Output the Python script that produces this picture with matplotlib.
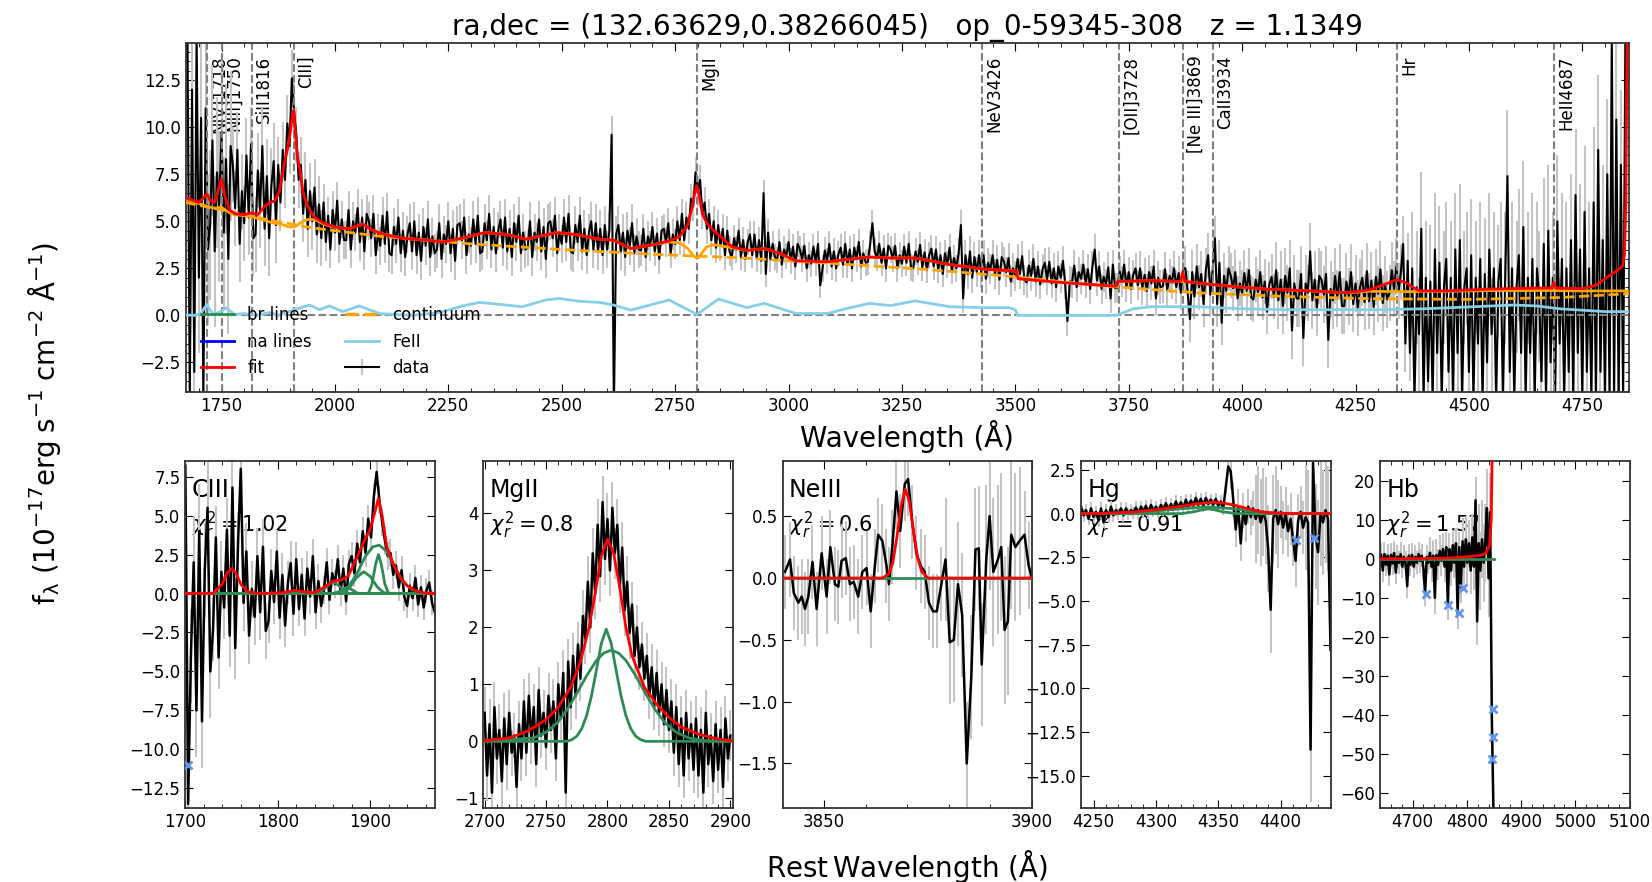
import numpy as np
import matplotlib
matplotlib.use("Agg")
import matplotlib.pyplot as plt
import matplotlib.transforms as mtransforms
from matplotlib.lines import Line2D
from matplotlib.ticker import MultipleLocator

# ============================================================
# SETUP
# ============================================================
plt.rcParams.update({
    "font.family": "DejaVu Sans",
    "font.size": 12,
    "mathtext.fontset": "dejavusans",
    "xtick.direction": "in",
    "ytick.direction": "in",
    "xtick.top": True,
    "ytick.right": True,
    "xtick.major.size": 6,
    "ytick.major.size": 6,
    "xtick.minor.size": 3,
    "ytick.minor.size": 3,
    "axes.edgecolor": "#333333",
    "axes.linewidth": 1.3,
})

RED = "red"
ORANGE = "orange"
SKY = "skyblue"
GREEN = "#2E8B57"
BLUE = "blue"
ERR_GREY = "#C4C4C4"
MASK = "cornflowerblue"

TITLE = "ra,dec = (132.63629,0.38266045)   op_0-59345-308   z = 1.1349"

# ============================================================
# DATA - full spectrum (rest frame, 5 A sampling from 1675 A)
# ============================================================
spec_wave = np.arange(1675, 4850, 5)
spec_flux = [
    14.8, -4.5, 12.0, -3.0, 14.8, 2.0, 10.5, -4.5, 11.0, 3.5,
    4.8, 9.3, 3.4, 7.6, 5.8, 9.7, 4.4, 8.3, 3.0, 9.0,
    8.0, 5.7, 8.8, 3.8, 6.6, 4.9, 8.5, 5.2, 9.1, 4.1,
    4.3, 7.7, 5.6, 9.0, 4.6, 7.4, 4.1, 6.9, 8.2, 4.8,
    8.0, 6.0, 8.8, 7.2, 10.2, 9.0, 12.6, 10.8, 9.6, 7.2,
    8.0, 5.4, 7.2, 4.6, 6.6, 5.0, 6.8, 4.3, 5.9, 4.1,
    6.0, 3.9, 5.3, 3.5, 5.6, 4.4, 6.1, 3.8, 5.1, 4.0,
    4.0, 5.6, 3.5, 5.0, 4.4, 5.7, 3.9, 5.2, 3.4, 5.4,
    5.0, 4.1, 5.4, 3.2, 4.4, 3.7, 5.3, 3.8, 5.5, 3.3,
    3.2, 4.7, 3.8, 5.2, 3.3, 4.5, 3.1, 4.3, 4.9, 3.4,
    5.0, 3.2, 4.4, 2.9, 4.7, 3.7, 5.1, 3.1, 4.2, 3.3,
    3.5, 4.9, 3.0, 4.3, 3.8, 5.0, 3.3, 4.6, 2.9, 4.8,
    4.9, 4.0, 5.2, 3.2, 4.3, 3.7, 5.1, 3.8, 5.3, 3.3,
    3.4, 4.9, 4.0, 5.4, 3.5, 4.7, 3.3, 4.5, 5.1, 3.6,
    5.2, 3.4, 4.6, 3.1, 4.9, 3.9, 5.3, 3.3, 4.4, 3.5,
    3.6, 5.0, 3.1, 4.4, 3.9, 5.1, 3.4, 4.7, 3.0, 4.9,
    5.0, 4.1, 5.3, 3.3, 4.4, 3.8, 5.2, 3.9, 5.4, 3.4,
    3.3, 4.8, 3.9, 5.3, 3.4, 4.6, 3.2, 4.4, 5.0, 3.5,
    4.9, 3.4, 4.6, 3.2, 4.8, 3.5, 4.5, 9.6, -5.0, 4.3,
    4.8, 3.4, 4.4, 3.1, 4.5, 3.7, 4.9, 3.3, 4.2, 3.5,
    3.45, 4.6, 3.1, 4.2, 3.7, 4.7, 3.4, 4.35, 3.0, 4.5,
    4.6, 3.9, 4.9, 3.3, 4.3, 3.8, 5.0, 4.0, 5.4, 4.0,
    5.2, 4.6, 6.2, 5.8, 7.6, 6.6, 7.2, 5.4, 6.0, 4.6,
    5.4, 4.0, 5.0, 3.6, 4.8, 3.7, 4.6, 3.2, 4.5, 3.4,
    3.1, 4.1, 3.5, 4.5, 3.1, 4.0, 3.0, 3.9, 4.3, 3.2,
    4.3, 3.0, 4.0, 2.9, 6.5, 2.2, 4.4, 3.0, 3.8, 3.1,
    2.95, 3.9, 2.7, 3.5, 3.15, 3.9, 2.9, 3.65, 2.6, 3.8,
    3.5, 3.0, 3.7, 2.5, 3.2, 2.75, 3.65, 2.8, 3.8, 1.6,
    2.5, 3.45, 2.9, 3.8, 2.6, 3.4, 2.5, 3.25, 3.6, 2.7,
    3.8, 2.7, 3.5, 2.5, 3.6, 3.0, 3.9, 2.6, 3.3, 2.8,
    2.85, 3.8, 4.9, 3.4, 3.05, 3.8, 2.8, 3.55, 2.5, 3.7,
    3.5, 3.0, 3.7, 2.5, 3.2, 2.75, 3.65, 2.8, 3.8, 2.55,
    2.5, 3.4, 2.85, 3.75, 2.55, 3.35, 2.4, 3.2, 3.55, 2.6,
    3.5, 2.4, 3.2, 2.2, 3.3, 2.7, 3.6, 2.35, 3.05, 2.5,
    3.3, 4.8, 0.9, 3.2, 2.2, 3.4, 2.0, 3.1, 2.3, 3.2,
    2.25, 3.2, 1.95, 2.8, 2.45, 3.2, 2.2, 2.95, 1.9, 3.1,
    2.85, 2.3, 3.05, 1.8, 2.5, 2.1, 3.0, 2.2, 3.15, 1.9,
    1.75, 2.65, 2.1, 3.0, 1.8, 2.6, 1.65, 2.45, 2.8, 1.9,
    2.85, 1.7, 2.5, 1.5, 2.6, 2.0, 2.9, 1.65, -0.3, 1.8,
    1.75, 2.65, 1.5, 2.3, 1.95, 2.7, 1.7, 2.45, 1.4, 2.6,
    3.5, 1.85, 2.6, 1.4, 2.05, 1.65, 2.55, 0.9, 2.7, 1.45,
    1.45, 2.35, 1.8, 2.7, 1.5, 2.3, 1.4, 2.15, 2.5, 1.6,
    2.5, 1.45, 2.15, 1.3, 2.3, 1.7, 2.6, 0.9, 2.0, 1.5,
    1.55, 2.45, 1.35, 2.1, 1.75, 2.5, 1.5, 2.25, 1.2, 2.5,
    2.5, 1.2, -0.2, 2.3, 1.0, 2.6, 1.5, 2.2, 0.6, 2.4,
    3.2, 1.1, 2.4, 4.1, 0.6, 2.8, -0.4, 2.1, 1.3, 2.5,
    2.1, 1.45, 2.3, 0.9, 1.7, 1.2, 2.25, 1.3, 2.4, 0.95,
    0.85, 1.9, 1.25, 2.3, 0.95, 1.8, 0.2, 1.65, 2.05, 1.0,
    2.4, 0.8, 1.9, 0.5, 2.1, 1.2, 2.5, -0.8, 1.7, 0.9,
    0.9, 2.2, -1.2, 1.7, 1.2, 3.4, 0.8, 1.9, 0.4, 2.1,
    1.9, 1.1, 2.2, -1.3, 1.4, 0.8, 2.1, 0.9, 2.3, 0.5,
    0.5, 1.8, 1.0, 2.3, 0.6, 1.7, 0.4, 1.5, 2.0, 0.7,
    2.35, 0.75, 1.85, 0.45, 2.05, 1.15, 2.45, 0.65, 1.65, 0.85,
    1.2, 2.4, 1.4, 2.6, 1.3, 2.3, 3.8, -1.5, 2.9, -2.0,
    2.5, -4.5, 1.5, -1.0, 4.6, -4.5, 2.0, -3.5, 1.8, -4.5,
    3.5, -2.0, 2.8, -4.5, 1.5, 3.0, -3.0, 2.0, -4.5, 3.5,
    -2.0, 4.0, -4.5, 1.5, 2.5, -3.0, 3.2, -4.5, 2.0, -1.5,
    3.0, -4.5, 2.2, -2.5, 3.5, -1.0, 2.5, -4.5, 1.8, 3.0,
    -4.5, 2.0, 7.4, -3.0, 2.5, -4.5, 1.5, 3.2, -2.0, 4.7,
    -4.5, 2.0, -2.0, 3.0, -4.5, 2.5, 1.0, -3.5, 3.8, -4.5,
    4.5, -2.5, 2.0, -4.5, 5.0, -1.5, 3.0, -4.5, 2.5, -3.0,
    4.0, -4.5, 6.4, -2.0, 3.5, -4.5, 5.5, -3.0, 2.5, -4.5,
    6.0, -4.5, 8.8, -3.0, 4.0, -4.5, 7.5, -4.5, 14.8, -4.5,
    10.4, -4.5, 8.0, -4.5, 15.0,
]
# one error value per 100 A block
spec_err_block = [4.0, 2.0, 1.5, 1.0, 1.0, 1.0, 1.0, 1.0, 1.0, 1.0, 0.8, 0.8,
                  0.7, 0.7, 0.7, 0.7, 0.7, 0.8, 0.8, 0.8, 0.8, 0.9, 1.2, 1.2,
                  1.5, 1.5, 1.5, 3.0, 3.0, 3.5, 3.5, 4.0]

# fit and continuum(+FeII) share nodes
model_wave = [1671, 1700, 1712, 1718, 1725, 1735, 1742, 1750, 1758, 1768, 1780, 1800,
              1816, 1830, 1845, 1858, 1868, 1878, 1888, 1896, 1902, 1906, 1909, 1912,
              1917, 1923, 1930, 1940, 1955, 1975, 2000, 2030, 2062, 2080, 2110, 2150,
              2200, 2240, 2280, 2330, 2380, 2420, 2460, 2490, 2530, 2583, 2614, 2652,
              2700, 2737, 2760, 2778, 2788, 2794, 2798, 2803, 2810, 2820, 2835, 2850,
              2875, 2908, 2947, 2980, 3016, 3086, 3124, 3178, 3225, 3279, 3356, 3433,
              3503, 3506, 3600, 3722, 3726, 3800, 3864, 3869, 3874, 3950, 4050, 4150,
              4230, 4280, 4320, 4341, 4360, 4390, 4450, 4550, 4650, 4682, 4687, 4692,
              4750, 4780, 4800, 4825, 4838, 4843, 4846, 4849]
fit_flux = [6.25, 6.00, 6.30, 6.45, 6.10, 6.00, 6.60, 7.25, 6.30, 5.60, 5.40, 5.35,
            5.45, 5.35, 5.80, 6.00, 6.10, 6.60, 8.00, 8.90, 9.80, 10.60, 10.90, 10.00,
            8.50, 7.70, 6.50, 5.80, 5.20, 4.90, 4.70, 4.60, 4.85, 4.55, 4.30, 4.10,
            4.00, 3.90, 4.10, 4.40, 4.30, 4.05, 4.25, 4.40, 4.30, 4.05, 4.00, 3.55,
            3.75, 3.95, 4.20, 4.80, 5.80, 6.60, 6.90, 6.40, 5.40, 4.90, 4.50, 4.20,
            3.65, 3.45, 3.55, 3.30, 2.90, 2.85, 2.95, 3.10, 3.05, 3.05, 2.70, 2.45,
            2.35, 1.95, 1.75, 1.55, 1.80, 1.85, 1.80, 2.30, 1.80, 1.60, 1.40, 1.30,
            1.20, 1.35, 1.70, 1.90, 1.75, 1.30, 1.30, 1.40, 1.45, 1.45, 1.75, 1.45,
            1.42, 1.60, 1.95, 2.35, 2.60, 3.20, 6.00, 16.0]
conti_flux = [6.20, 5.95, 5.85, 5.80, 5.75, 5.70, 5.72, 5.75, 5.60, 5.45, 5.35, 5.30,
              5.25, 5.15, 5.05, 4.95, 4.90, 4.85, 4.80, 4.72, 4.70, 4.70, 4.70, 4.72,
              4.80, 4.90, 5.00, 5.10, 5.10, 4.85, 4.68, 4.60, 4.85, 4.55, 4.30, 4.10,
              4.00, 3.90, 4.10, 4.40, 4.30, 4.05, 4.25, 4.40, 4.30, 4.05, 4.00, 3.55,
              3.75, 3.90, 3.85, 3.55, 3.25, 3.10, 3.05, 3.10, 3.35, 3.65, 3.75, 3.70,
              3.60, 3.45, 3.55, 3.30, 2.90, 2.85, 2.95, 3.10, 3.05, 3.05, 2.70, 2.45,
              2.35, 1.95, 1.75, 1.55, 1.80, 1.85, 1.80, 1.80, 1.80, 1.60, 1.40, 1.30,
              1.20, 1.28, 1.27, 1.26, 1.26, 1.27, 1.28, 1.32, 1.32, 1.32, 1.32, 1.32,
              1.30, 1.30, 1.30, 1.30, 1.30, 1.30, 1.30, 1.30]

pl_wave = [1671, 1750, 1850, 1950, 2100, 2300, 2500, 2700, 2900, 3100, 3300, 3500,
           3700, 3900, 4100, 4300, 4500, 4700, 4853]
pl_flux = [6.0, 5.6, 5.1, 4.65, 4.2, 3.8, 3.5, 3.25, 3.05, 2.75, 2.45, 2.05,
           1.55, 1.2, 1.0, 0.88, 0.85, 0.95, 1.15]

fe_wave = [1671, 1690, 1705, 1712, 1718, 1724, 1733, 1748, 1760, 1779, 1800, 1827,
           1856, 1878, 1910, 1944, 1966, 1988, 2017, 2054, 2098, 2171, 2230, 2281,
           2318, 2377, 2413, 2465, 2494, 2538, 2583, 2614, 2652, 2737, 2798, 2846,
           2908, 2947, 3016, 3086, 3124, 3178, 3225, 3279, 3356, 3433, 3487, 3500,
           3505, 3722, 3728, 3760, 3800, 3900, 4000, 4100, 4200, 4300, 4400, 4500,
           4600, 4650, 4700, 4800, 4853]
fe_flux = [0.02, 0.0, 0.1, 0.4, 0.55, 0.3, 0.05, 0.2, 0.4, 0.05, 0.1, 0.0,
           0.15, 0.0, 0.3, 0.55, 0.3, 0.5, 0.2, 0.5, 0.1, 0.0, 0.15, 0.5,
           0.69, 0.55, 0.46, 0.82, 0.9, 0.75, 0.69, 0.55, 0.28, 0.82, 0.05, 0.87,
           0.41, 0.64, 0.1, 0.1, 0.34, 0.64, 0.52, 0.77, 0.46, 0.41, 0.41, 0.3,
           0.0, 0.0, 0.05, 0.35, 0.46, 0.46, 0.35, 0.3, 0.3, 0.3, 0.35, 0.45,
           0.55, 0.5, 0.35, 0.2, 0.2]

line_names = ["NIV]1718", "NIII]1750", "SiII1816", "CIII]", "MgII", "NeV3426",
              "[OII]3728", "[Ne III]3869", "CaII3934", "Hr", "HeII4687"]
line_cens = [1718.5, 1750.3, 1816.4, 1908.7, 2798.7, 3426.8,
             3728.5, 3869.9, 3934.8, 4341.7, 4687.0]

# ============================================================
# DATA - line windows (continuum subtracted)
# ============================================================
# CIII window, 3 A sampling
p1_wave = np.arange(1700, 1971, 3)
p1_flux = [
    8.2, -13.5, -4.0, 2.0, -7.5, 4.0, -8.2, 1.5, 5.5, -5.0,
    -2.3, 3.6, -4.1, 1.4, -0.9, 4.1, -2.7, 6.8, -3.5, 3.2,
    8.0, -0.6, 2.7, -2.7, 0.3, -1.5, 2.4, -1.2, 3.0, -2.4,
    -1.8, 1.45, -0.55, 2.7, -1.55, 1.2, -2.05, 0.7, 1.95, -1.3,
    2.2, -1.0, 1.2, -1.6, 1.6, -0.2, 2.4, -1.2, 0.8, -0.8,
    0.2, 2.0, -0.4, 1.3, 0.6, 2.2, 0.1, 1.6, -0.5, 1.9,
    2.4, 1.3, 3.2, 2.0, 4.0, 2.6, 4.8, 3.6, 6.2, 7.8,
    6.0, 4.6, 3.4, 2.4, 2.6, 1.2, 1.8, 0.4, 1.5, -0.2,
    -0.8, 0.5, -0.3, 1.0, -0.7, 0.4, -0.9, 0.2, 0.7, -0.6,
    -1.2,
]
p1_err_block = [3.0, 2.0, 1.8, 1.4, 1.1, 0.9, 0.9, 0.9, 0.8, 0.8]
p1_fit_wave = [1700, 1730, 1740, 1745, 1750, 1755, 1760, 1768, 1780, 1805, 1818, 1830,
               1840, 1850, 1860, 1868, 1876, 1885, 1893, 1900, 1905, 1909, 1913, 1918,
               1925, 1932, 1940, 1950, 1960, 1970]
p1_fit_flux = [0.0, 0.02, 0.6, 1.3, 1.6, 1.3, 0.6, 0.1, 0.0, 0.05, 0.2, 0.1,
               0.05, 0.4, 0.8, 0.85, 1.1, 2.2, 3.3, 4.1, 5.2, 6.1, 5.0, 3.0,
               1.9, 1.1, 0.5, 0.15, 0.03, 0.0]
p1_br1_wave = [1700, 1860, 1875, 1885, 1895, 1903, 1910, 1918, 1925, 1935, 1945, 1960, 1970]
p1_br1_flux = [0.0, 0.0, 0.3, 1.2, 2.4, 3.0, 3.1, 2.7, 1.9, 0.8, 0.25, 0.0, 0.0]
p1_br2_wave = [1700, 1870, 1878, 1885, 1893, 1900, 1908, 1915, 1925, 1970]
p1_br2_flux = [0.0, 0.0, 0.4, 1.0, 1.4, 1.1, 0.4, 0.05, 0.0, 0.0]
p1_br3_wave = [1700, 1898, 1902, 1906, 1909, 1912, 1916, 1920, 1970]
p1_br3_flux = [0.0, 0.0, 0.6, 1.9, 2.5, 1.9, 0.6, 0.0, 0.0]
p1_br4_wave = [1700, 1845, 1852, 1860, 1868, 1876, 1970]
p1_br4_flux = [0.0, 0.0, 0.4, 0.8, 0.4, 0.0, 0.0]
p1_br5_wave = [1700, 1865, 1870, 1875, 1880, 1887, 1970]
p1_br5_flux = [0.0, 0.0, 0.25, 0.4, 0.25, 0.0, 0.0]
p1_mask_wave = [1703]
p1_mask_flux = [-11.0]

# MgII window, 2 A sampling
p2_wave = np.arange(2700, 2902, 2)
p2_flux = [
    0.5, -0.6, 0.3, -0.9, 0.6, -0.3, 0.2, -0.7, 0.4, -0.4, 0.5, -0.2, 0.1, -0.8, 0.3, -0.3,
    0.7, -0.2, 0.8, 0.0, 0.6, -0.4, 0.9, 0.1, 0.5, -0.1, 0.8, 0.2, 0.7, -0.3, 1.0,
    0.4, 1.2, -0.9, 1.4, 0.6, 1.5, 0.8, 1.7, 1.1, 2.2,
    1.8, 2.8, 2.0, 3.3, 2.6,
    3.8, 2.9, 4.2, 3.2, 3.9, 3.0, 4.1, 3.3,
    3.8, 2.7, 3.4, 2.3, 2.8,
    1.9, 2.4, 1.5, 2.0, 1.3, 1.7, 1.1,
    1.5, 0.8, 1.3, 0.6, 1.2, 0.5, 1.0, 0.3, 0.9, 0.2,
    0.7, -0.2, 0.6, -0.4, 0.4, -0.6, 0.5, -0.3, 0.3, -0.5,
    0.4, -0.6, 0.2, -0.9, 0.5, -0.4, 0.1, -0.7, 0.3, -0.5, 0.2, -0.8, 0.4, -0.3, 0.1,
]
p2_err_block = [0.45, 0.4, 0.4, 0.4, 0.45, 0.45, 0.4, 0.4, 0.4, 0.4, 0.45]
p2_fit_wave = [2699, 2720, 2735, 2750, 2760, 2770, 2778, 2785, 2790, 2795, 2800, 2805,
               2810, 2815, 2820, 2830, 2840, 2850, 2860, 2875, 2890, 2902]
p2_fit_flux = [0.01, 0.06, 0.18, 0.38, 0.6, 0.95, 1.4, 2.0, 2.6, 3.25, 3.55, 3.3,
               2.7, 2.0, 1.5, 0.95, 0.65, 0.42, 0.25, 0.12, 0.04, 0.01]
p2_br1_wave = [2699, 2740, 2750, 2759, 2767, 2775, 2783, 2791, 2797, 2803, 2809, 2815,
               2823, 2831, 2839, 2847, 2856, 2866, 2880, 2902]
p2_br1_flux = [0.0, 0.06, 0.16, 0.32, 0.55, 0.84, 1.15, 1.42, 1.55, 1.6, 1.55, 1.42,
               1.15, 0.84, 0.55, 0.32, 0.16, 0.06, 0.01, 0.0]
p2_br2_wave = [2699, 2767, 2771, 2775, 2779, 2783, 2787, 2791, 2795, 2799, 2803, 2807,
               2811, 2815, 2819, 2823, 2827, 2831, 2902]
p2_br2_flux = [0.0, 0.0, 0.03, 0.09, 0.22, 0.45, 0.8, 1.25, 1.72, 1.97, 1.72, 1.25,
               0.8, 0.45, 0.22, 0.09, 0.03, 0.0, 0.0]

# NeIII window, native sampling
p3_wave = [3840.6, 3841.8, 3842.7, 3843.8, 3844.6, 3845.4, 3846.2, 3847.2, 3848.2, 3849.4,
           3850.6, 3851.5, 3852.6, 3853.4, 3854.2, 3855.2, 3856.2, 3857.1, 3858.2, 3859.2,
           3860.2, 3861.2, 3862.2, 3863.0, 3864.0, 3865.0, 3865.6, 3866.4, 3867.4, 3868.3,
           3869.4, 3870.2, 3871.2, 3872.2, 3873.2, 3874.2, 3875.2, 3876.2, 3877.1, 3878.2,
           3879.2, 3880.2, 3881.2, 3882.2, 3883.2, 3884.3, 3885.4, 3886.4, 3887.2, 3887.9,
           3889.0, 3889.8, 3890.7, 3891.8, 3892.6, 3893.4, 3894.2, 3895.0, 3896.0, 3897.0,
           3898.2, 3899.2, 3900.0]
p3_flux = [0.05, 0.15, -0.12, -0.20, -0.15, -0.25, -0.15, 0.13, -0.25, 0.20,
           -0.15, 0.25, -0.05, -0.07, 0.14, 0.16, -0.05, -0.03, -0.15, 0.05,
           0.08, -0.27, 0.10, 0.35, 0.30, 0.10, -0.05, 0.25, 0.70, 0.38,
           0.76, 0.80, 0.45, 0.20, 0.10, 0.05, -0.20, -0.27, -0.27, -0.05,
           0.15, -0.52, -0.50, -0.05, -0.30, -1.50, -0.80, 0.23, 0.24, -0.70,
           0.15, 0.50, 0.05, 0.15, 0.25, -0.42, -0.35, 0.35, 0.25, 0.30,
           0.35, 0.10, 0.00]
p3_err_block = [0.3, 0.3, 0.3, 0.3, 0.5, 0.6, 0.35]
p3_fit_wave = [3840, 3864, 3865.5, 3866.5, 3867.5, 3868.5, 3869.5, 3870.5, 3871.5,
               3872.5, 3873.5, 3875, 3900]
p3_fit_flux = [0.0, 0.0, 0.03, 0.12, 0.33, 0.58, 0.72, 0.62, 0.38, 0.16, 0.05, 0.0, 0.0]
p3_br_wave = [3840, 3900]
p3_br_flux = [0.0, 0.0]

# Hg window, 2 A sampling
p4_wave = np.arange(4240, 4442, 2)
p4_flux = [
    0.4, -0.1, 0.2, -0.3, 0.3, -0.2, 0.1, -0.4, 0.3, -0.5,
    0.2, -0.2, 0.4, -0.1, 0.2, 0.0, 0.3, -0.1, 0.3, 0.0,
    0.2, 0.05, 0.35, 0.0, 0.4, 0.1, 0.45, 0.05, 0.5, 0.15,
    0.4, 0.1, 0.5, 0.2, 0.6, 0.2, 0.55, 0.25, 0.7, 0.3,
    0.65, 0.3, 0.8, 0.4, 0.75, 0.45, 0.9, 0.5, 0.85, 0.45,
    0.9, 0.55, 0.8, 0.5, 0.85, 0.45, 0.7, 0.3,
    1.5, 2.7, 2.4, 0.8, -0.9, 0.4, -1.7, 0.2, -0.6, 0.4,
    -0.2, 0.3, -0.3, 0.2, -0.5, 0.1, -0.4, -2.0, -5.5, -0.3,
    0.2, -0.6, 0.1, -0.8, 0.0, -1.0, -0.3, -1.5, -2.7, -0.4,
    0.1, -0.8, -0.2, -0.5, -13.5, 2.9, -1.3, -2.2, 0.0, -0.5,
    0.2, -0.3, -7.8,
]
p4_err_block = [0.35, 0.35, 0.35, 0.35, 0.35, 0.35, 1.0, 2.5, 1.5, 3.0, 3.0]
p4_fit_wave = [4240, 4260, 4280, 4300, 4320, 4335, 4345, 4355, 4365, 4375, 4385, 4395, 4410, 4440]
p4_fit_flux = [0.0, 0.02, 0.08, 0.22, 0.42, 0.58, 0.65, 0.6, 0.45, 0.25, 0.1, 0.03, 0.0, 0.0]
p4_br1_wave = [4240, 4280, 4300, 4320, 4340, 4360, 4380, 4400, 4440]
p4_br1_flux = [0.0, 0.05, 0.15, 0.28, 0.38, 0.3, 0.12, 0.02, 0.0]
p4_br2_wave = [4240, 4320, 4330, 4337, 4342, 4347, 4354, 4365, 4440]
p4_br2_flux = [0.0, 0.0, 0.1, 0.22, 0.27, 0.22, 0.1, 0.0, 0.0]
p4_mask_wave = [4412, 4427]
p4_mask_flux = [-1.5, -1.4]

# Hb window, 3 A sampling (spectrum ends at ~4850 A)
p5_wave = np.arange(4642, 4850, 3)
p5_flux = [
    1.0, -3.0, 1.2, -1.5, 0.8, -4.0, 1.0, -1.2, 1.5, -3.5,
    0.6, -1.0, 1.2, -2.0, 0.5, -1.0, -7.0, 0.8, -1.5, 1.0,
    -2.0, 0.5, -1.0, 1.2, -0.5, 0.8, -2.5, -9.0, 0.5, -1.0,
    1.5, -2.0, 0.8, -10.0, 1.0, -1.5, 2.0, -0.5, 2.5, -2.0,
    3.0, -11.7, 2.5, -3.0, 3.5, -1.0, 4.0, -14.0, 3.0, -7.3,
    4.5, -2.0, 5.0, -1.0, 4.0, -3.0, 5.5, -2.0, 15.0, -16.0,
    4.0, -3.0, 5.0, -1.0, 4.0, 13.0, -5.0, 12.0, -40.0, -64.0,
]
p5_err_block = [3.0, 3.0, 3.0, 4.0, 4.0, 6.0, 10.0]
p5_fit_wave = [4640, 4700, 4760, 4800, 4825, 4835, 4842, 4845, 4847]
p5_fit_flux = [0.0, 0.05, 0.2, 0.5, 0.9, 1.4, 3.5, 10.0, 30.0]
p5_br_wave = [4640, 4850]
p5_br_flux = [0.0, 0.0]
p5_mask_wave = [4724, 4766, 4786, 4792, 4849, 4848, 4847]
p5_mask_flux = [-8.9, -11.7, -13.8, -7.35, -38.4, -45.5, -51.2]

# ============================================================
# FIGURE
# ============================================================
fig = plt.figure(figsize=(16.52, 8.82), dpi=100)

# ------------------------------------------------------------
# Top panel: whole spectrum
# ------------------------------------------------------------
ax = fig.add_axes([0.1124, 0.5556, 0.8737, 0.3953])

spec_err = np.repeat(spec_err_block, 20)[:len(spec_wave)]
eb = ax.errorbar(spec_wave, spec_flux, yerr=spec_err, color="k", ecolor=ERR_GREY,
                 lw=1.5, elinewidth=1.5, capsize=0, zorder=2)
ax.axhline(0, color="grey", ls="--", lw=1.5, zorder=2.5)

trans = mtransforms.blended_transform_factory(ax.transData, ax.transAxes)
for name, cen in zip(line_names, line_cens):
    ax.axvline(cen, color="grey", ls="--", lw=1.5, zorder=2.5)
    ax.text(cen + 7, 0.965, name, rotation=90, ha="left", va="top",
            transform=trans, fontsize=12, zorder=1)

ax.plot(model_wave, conti_flux, color=ORANGE, lw=2, zorder=3)
ax.plot(pl_wave, pl_flux, color=ORANGE, lw=2, ls="--", zorder=3)
ax.plot(fe_wave, fe_flux, color=SKY, lw=2, zorder=3)
ax.plot(model_wave, fit_flux, color=RED, lw=2, zorder=4)

handles = [Line2D([], [], color=GREEN, lw=2), Line2D([], [], color=BLUE, lw=2),
           Line2D([], [], color=RED, lw=2), Line2D([], [], color=ORANGE, lw=2.5, ls="--"),
           Line2D([], [], color=SKY, lw=2), eb]
labels = ["br lines", "na lines", "fit", "continuum", "FeII", "data"]
ax.legend(handles, labels, loc="lower left", ncol=2, frameon=False, fontsize=12)

ax.set_xlim(1671, 4853)
ax.set_ylim(-4.07, 14.46)
ax.xaxis.set_major_locator(MultipleLocator(250))
ax.xaxis.set_minor_locator(MultipleLocator(50))
ax.yaxis.set_major_locator(MultipleLocator(2.5))
ax.yaxis.set_minor_locator(MultipleLocator(0.5))
ax.tick_params(which="both", top=True, right=True)
ax.set_title(TITLE, fontsize=20)
ax.set_xlabel("Wavelength (Å)", fontsize=20)

# ------------------------------------------------------------
# Bottom panels: line windows
# ------------------------------------------------------------
panels = [
    dict(name="CIII", chi="1.02", wave=p1_wave, flux=p1_flux, err=p1_err_block,
         fit=(p1_fit_wave, p1_fit_flux),
         comps=[(p1_br1_wave, p1_br1_flux), (p1_br2_wave, p1_br2_flux),
                (p1_br3_wave, p1_br3_flux), (p1_br4_wave, p1_br4_flux),
                (p1_br5_wave, p1_br5_flux)],
         mask=(p1_mask_wave, p1_mask_flux),
         xlim=(1700, 1970), ylim=(-13.76, 8.5), xmaj=100, ymaj=2.5),
    dict(name="MgII", chi="0.8", wave=p2_wave, flux=p2_flux, err=p2_err_block,
         fit=(p2_fit_wave, p2_fit_flux),
         comps=[(p2_br1_wave, p2_br1_flux), (p2_br2_wave, p2_br2_flux)],
         mask=None, xlim=(2699, 2902), ylim=(-1.17, 4.92), xmaj=50, ymaj=1),
    dict(name="NeIII", chi="0.6", wave=p3_wave, flux=p3_flux, err=p3_err_block,
         fit=(p3_fit_wave, p3_fit_flux), comps=[(p3_br_wave, p3_br_flux)],
         mask=None, xlim=(3840, 3900), ylim=(-1.86, 0.946), xmaj=50, ymaj=0.5),
    dict(name="Hg", chi="0.91", wave=p4_wave, flux=p4_flux, err=p4_err_block,
         fit=(p4_fit_wave, p4_fit_flux),
         comps=[(p4_br1_wave, p4_br1_flux), (p4_br2_wave, p4_br2_flux)],
         mask=(p4_mask_wave, p4_mask_flux),
         xlim=(4240, 4440), ylim=(-16.84, 3.01), xmaj=50, ymaj=2.5),
    dict(name="Hb", chi="1.57", wave=p5_wave, flux=p5_flux, err=p5_err_block,
         fit=(p5_fit_wave, p5_fit_flux), comps=[(p5_br_wave, p5_br_flux)],
         mask=(p5_mask_wave, p5_mask_flux),
         xlim=(4640, 5100), ylim=(-63.8, 25.05), xmaj=100, ymaj=10),
]

lefts = [0.1122, 0.2926, 0.4737, 0.6544, 0.8354]
for left, p in zip(lefts, panels):
    a = fig.add_axes([left, 0.0839, 0.1510, 0.3934])
    err = np.repeat(p["err"], 10)[:len(p["wave"])]
    a.errorbar(p["wave"], p["flux"], yerr=err, color="k", ecolor=ERR_GREY,
               lw=1.8, elinewidth=1.5, capsize=0, zorder=2)
    for cw, cf in p["comps"]:
        a.plot(cw, cf, color=GREEN, lw=2, zorder=3)
    a.plot(p["fit"][0], p["fit"][1], color=RED, lw=2, zorder=4)
    if p["mask"] is not None:
        a.plot(p["mask"][0], p["mask"][1], "x", color=MASK, ms=6, mew=2, zorder=5)
    a.text(0.025, 0.895, p["name"], transform=a.transAxes, fontsize=17, zorder=1)
    a.text(0.025, 0.795, r"$\chi ^2_r=%s$" % p["chi"], transform=a.transAxes,
           fontsize=15, zorder=1)
    a.set_xlim(*p["xlim"])
    a.set_ylim(*p["ylim"])
    a.xaxis.set_major_locator(MultipleLocator(p["xmaj"]))
    a.xaxis.set_minor_locator(MultipleLocator(p["xmaj"] / 5))
    a.yaxis.set_major_locator(MultipleLocator(p["ymaj"]))
    a.tick_params(which="both", top=True, right=True)

fig.text(0.549, 0.018, r"$\rm Rest\,Wavelength$ ($\rm\AA$)", ha="center", va="center", fontsize=20)
fig.text(0.027, 0.52, r"$\rm f_{\lambda}$ ($\rm 10^{-17} erg\;s^{-1}\;cm^{-2}\;\AA^{-1}$)",
         rotation=90, ha="center", va="center", fontsize=20)

fig.savefig("out.png", dpi=100)
print("saved out.png")
